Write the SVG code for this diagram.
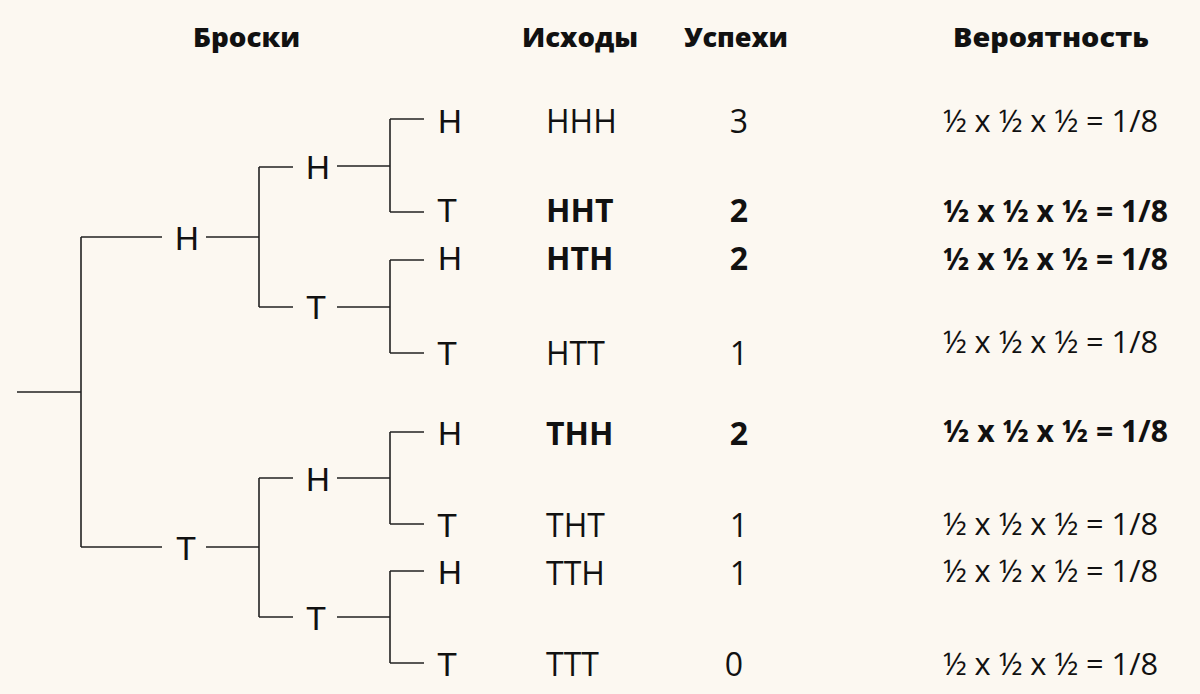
<svg xmlns="http://www.w3.org/2000/svg" width="1200" height="694" viewBox="0 0 1200 694">
  <style>
    .bg { fill: #fcf8f1; }
    .edge { fill: none; stroke: #222; stroke-width: 1.6; }
    .lbl { font-family: "Liberation Sans", Arial, sans-serif; font-size: 33px; fill: #111; text-anchor: middle; }
    .hdr { font-family: "Open Sans", "Noto Sans", sans-serif; font-weight: 800; font-size: 27px; fill: #111; }
    .cell { font-family: "Open Sans", "Noto Sans", sans-serif; font-size: 32px; fill: #111; }
    .num { text-anchor: middle; }
    .p { font-size: 31px; }
    .b { font-weight: 700; }
  </style>
  <rect class="bg" x="0" y="0" width="1200" height="694"/>

  <!-- column headers -->
  <g id="headers">
    <text class="hdr" x="193" y="47" textLength="107" lengthAdjust="spacingAndGlyphs">Броски</text>
    <text class="hdr" x="522" y="47" textLength="116" lengthAdjust="spacingAndGlyphs">Исходы</text>
    <text class="hdr" x="684" y="47" textLength="104" lengthAdjust="spacingAndGlyphs">Успехи</text>
    <text class="hdr" x="953" y="47" textLength="196" lengthAdjust="spacingAndGlyphs">Вероятность</text>
  </g>

  <!-- tree connectors -->
  <g id="connectors" class="edge">
    <!-- root -->
    <path d="M17 392 H81 M81 237 V547 M81 237 H162 M81 547 H162"/>
    <!-- first throw: H -->
    <path d="M206 237 H259 M259 167 V307 M259 167 H293 M259 307 H293"/>
    <path d="M337 166 H390 M390 119 V212 M390 119 H424 M390 212 H424"/>
    <path d="M337 307 H390 M390 260 V353 M390 260 H424 M390 353 H424"/>
    <!-- first throw: T -->
    <path d="M206 547 H259 M259 478 V617 M259 478 H293 M259 617 H293"/>
    <path d="M337 478 H390 M390 432 V524 M390 432 H424 M390 524 H424"/>
    <path d="M337 617 H390 M390 571 V663 M390 571 H424 M390 663 H424"/>
  </g>

  <!-- tree nodes -->
  <g id="n-h"><text class="lbl" x="187" y="250">H</text></g>
  <g id="n-t"><text class="lbl" x="186" y="560">T</text></g>
  <g id="n-hh"><text class="lbl" x="318" y="179">H</text></g>
  <g id="n-ht"><text class="lbl" x="316" y="319">T</text></g>
  <g id="n-th"><text class="lbl" x="318" y="491">H</text></g>
  <g id="n-tt"><text class="lbl" x="316" y="630">T</text></g>
  <g id="n-hhh"><text class="lbl" x="450" y="133">H</text></g>
  <g id="n-hht"><text class="lbl" x="447" y="222">T</text></g>
  <g id="n-hth"><text class="lbl" x="450" y="270">H</text></g>
  <g id="n-htt"><text class="lbl" x="447" y="365">T</text></g>
  <g id="n-thh"><text class="lbl" x="450" y="445">H</text></g>
  <g id="n-tht"><text class="lbl" x="447" y="537">T</text></g>
  <g id="n-tth"><text class="lbl" x="450" y="584">H</text></g>
  <g id="n-ttt"><text class="lbl" x="447" y="676">T</text></g>

  <!-- outcome table -->
  <g id="row-hhh" class="cell">
    <text x="546" y="133">HHH</text>
    <text class="num" x="739" y="133">3</text>
    <text class="p" x="943" y="132" textLength="215" lengthAdjust="spacingAndGlyphs">½ x ½ x ½ = 1/8</text>
  </g>
  <g id="row-hht" class="cell b">
    <text x="546" y="222">HHT</text>
    <text class="num" x="739" y="222">2</text>
    <text class="p" x="943" y="222" textLength="225" lengthAdjust="spacingAndGlyphs">½ x ½ x ½ = 1/8</text>
  </g>
  <g id="row-hth" class="cell b">
    <text x="546" y="270">HTH</text>
    <text class="num" x="739" y="270">2</text>
    <text class="p" x="943" y="270" textLength="225" lengthAdjust="spacingAndGlyphs">½ x ½ x ½ = 1/8</text>
  </g>
  <g id="row-htt" class="cell">
    <text x="546" y="365">HTT</text>
    <text class="num" x="739" y="365">1</text>
    <text class="p" x="943" y="353" textLength="215" lengthAdjust="spacingAndGlyphs">½ x ½ x ½ = 1/8</text>
  </g>
  <g id="row-thh" class="cell b">
    <text x="546" y="445">THH</text>
    <text class="num" x="739" y="445">2</text>
    <text class="p" x="943" y="442" textLength="225" lengthAdjust="spacingAndGlyphs">½ x ½ x ½ = 1/8</text>
  </g>
  <g id="row-tht" class="cell">
    <text x="546" y="537">THT</text>
    <text class="num" x="739" y="537">1</text>
    <text class="p" x="943" y="535" textLength="215" lengthAdjust="spacingAndGlyphs">½ x ½ x ½ = 1/8</text>
  </g>
  <g id="row-tth" class="cell">
    <text x="546" y="585">TTH</text>
    <text class="num" x="739" y="585">1</text>
    <text class="p" x="943" y="582" textLength="215" lengthAdjust="spacingAndGlyphs">½ x ½ x ½ = 1/8</text>
  </g>
  <g id="row-ttt" class="cell">
    <text x="546" y="676">TTT</text>
    <text class="num" x="734" y="676">0</text>
    <text class="p" x="943" y="675" textLength="215" lengthAdjust="spacingAndGlyphs">½ x ½ x ½ = 1/8</text>
  </g>
</svg>
